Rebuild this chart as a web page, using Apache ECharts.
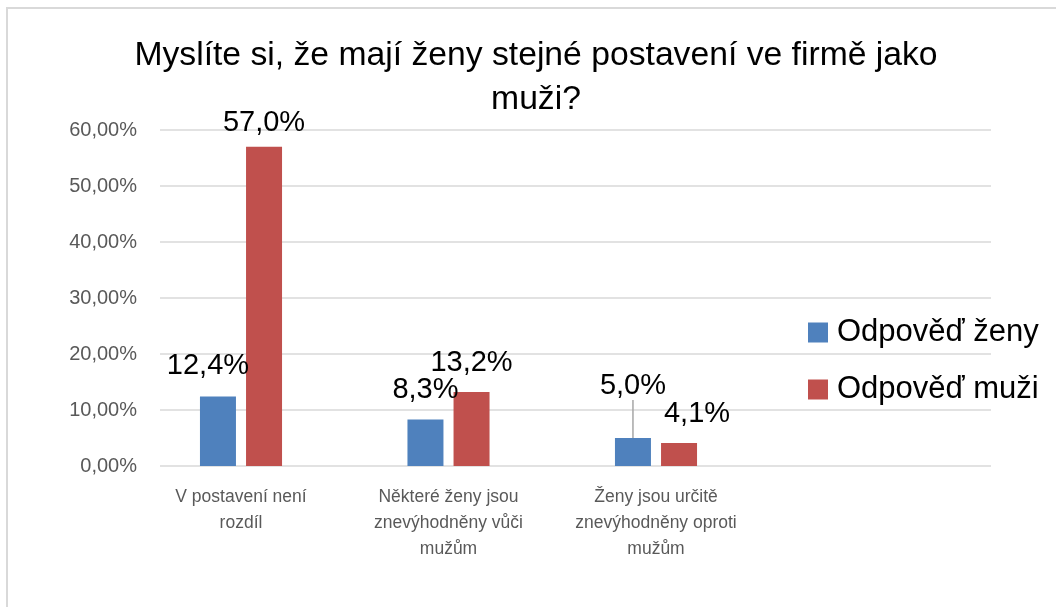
<!DOCTYPE html>
<html>
<head>
<meta charset="utf-8">
<script src="https://cdn.jsdelivr.net/npm/echarts@6/dist/echarts.min.js"></script>
<style>
html,body{margin:0;padding:0;background:#fff;}
#chart{width:1056px;height:607px;}
</style>
</head>
<body>
<div id="chart"></div>
<script>
// ---- data ----
const titleText = 'Myslíte si, že mají ženy stejné postavení ve firmě jako\nmuži?';
const categories = [
  'V postavení není\nrozdíl',
  'Některé ženy jsou\nznevýhodněny vůči\nmužům',
  'Ženy jsou určitě\nznevýhodněny oproti\nmužům'
];
const seriesNames = ['Odpověď ženy', 'Odpověď muži'];
const womenValues = [0.124, 0.083, 0.050];
const menValues = [0.570, 0.132, 0.041];
const yTickLabels = ['0,00%', '10,00%', '20,00%', '30,00%', '40,00%', '50,00%', '60,00%'];

// ---- presentation ----
const FONT = 'Liberation Sans, Arial, sans-serif';
const labelShift = [
  [[-10, -1], [0, 0], [0, -23]],
  [[0, 6], [0, 0], [18, 0]]
];
function pct1(v) { return (v * 100).toFixed(1).replace('.', ',') + '%'; }

const chart = echarts.init(document.getElementById('chart'), null, {renderer: 'canvas'});
const option = {
  backgroundColor: '#fff',
  animation: false,
  graphic: [{
    type: 'rect', silent: true, z: -10,
    shape: {x: 7, y: 8, width: 1100, height: 700},
    style: {fill: 'none', stroke: '#d9d9d9', lineWidth: 2}
  }],
  title: {
    text: titleText,
    left: 536,
    top: 34,
    padding: 0,
    textAlign: 'center',
    textStyle: {fontFamily: FONT, fontSize: 33.7, fontWeight: 'normal', color: '#000', lineHeight: 44}
  },
  legend: {
    orient: 'vertical',
    left: 808,
    top: 317,
    padding: 0,
    itemWidth: 20,
    itemHeight: 20,
    itemGap: 26,
    icon: 'rect',
    data: seriesNames,
    textStyle: {fontFamily: FONT, fontSize: 31, color: '#000', padding: [0, 0, 0, 4]}
  },
  grid: [
    {left: 160, right: 65, top: 130, bottom: 141},
    {left: 137.25, width: 622.5, top: 130, bottom: 141}
  ],
  xAxis: [
    {gridIndex: 0, type: 'value', show: false, min: 0, max: 1},
    {
      gridIndex: 1, type: 'category', data: categories,
      axisLine: {show: false}, axisTick: {show: false},
      axisLabel: {
        interval: 0, margin: 18, color: '#595959',
        fontFamily: FONT, fontSize: 17.5, lineHeight: 26
      }
    }
  ],
  yAxis: [
    {
      gridIndex: 0, type: 'value', min: 0, max: 0.6, interval: 0.1,
      axisLine: {show: false}, axisTick: {show: false},
      axisLabel: {
        margin: 23, color: '#595959', fontFamily: FONT, fontSize: 20,
        formatter: function (v) { return yTickLabels[Math.round(v * 10)]; }
      },
      splitLine: {lineStyle: {color: '#d9d9d9', width: 1.5}}
    },
    {gridIndex: 1, type: 'value', min: 0, max: 0.6, show: false, splitLine: {show: false}}
  ],
  series: [
    {
      name: seriesNames[0], type: 'bar', xAxisIndex: 1, yAxisIndex: 1,
      barWidth: 36, barGap: '28%',
      itemStyle: {color: '#4f81bd'},
      data: womenValues.map(function (v, i) {
        return i === 2 ? {value: v, labelLine: {show: true, lineStyle: {color: '#a6a6a6', width: 1.5}}} : v;
      }),
      label: {show: true, position: 'top', distance: 15, color: '#000', fontFamily: FONT, fontSize: 29,
        formatter: function (p) { return pct1(p.value); }},
      labelLayout: function (p) { const s = labelShift[0][p.dataIndex]; return {dx: s[0], dy: s[1]}; }
    },
    {
      name: seriesNames[1], type: 'bar', xAxisIndex: 1, yAxisIndex: 1,
      barWidth: 36, barGap: '28%',
      itemStyle: {color: '#c0504d'},
      data: menValues,
      label: {show: true, position: 'top', distance: 15, color: '#000', fontFamily: FONT, fontSize: 29,
        formatter: function (p) { return pct1(p.value); }},
      labelLayout: function (p) { const s = labelShift[1][p.dataIndex]; return {dx: s[0], dy: s[1]}; }
    }
  ]
};
chart.setOption(option);
</script>
</body>
</html>
